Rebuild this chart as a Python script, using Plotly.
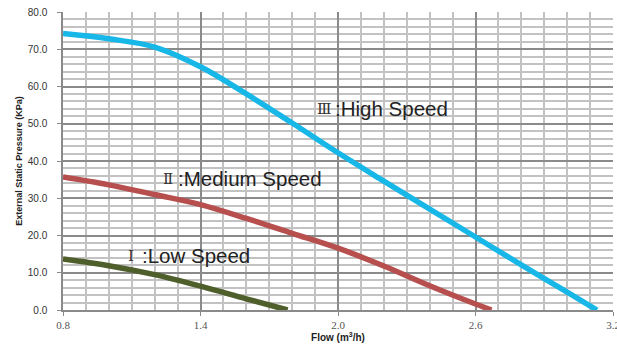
import plotly.graph_objs as go

# flow (m3/h) vs external static pressure (KPa)
flow_high = [0.8, 1.0, 1.2, 1.4, 1.6, 1.8, 2.0, 2.2, 2.4, 2.6, 2.8, 3.0, 3.13]
pres_high = [74.2, 72.8, 70.6, 65.3, 58.0, 50.2, 42.2, 34.6, 27.1, 19.6, 12.1, 4.8, 0.0]

flow_med = [0.8, 1.0, 1.2, 1.4, 1.6, 1.8, 2.0, 2.2, 2.4, 2.6, 2.67]
pres_med = [35.7, 33.6, 31.0, 28.3, 24.6, 20.6, 16.6, 11.8, 6.5, 1.6, 0.0]

flow_low = [0.8, 1.0, 1.2, 1.4, 1.6, 1.78]
pres_low = [13.7, 11.9, 9.5, 6.4, 3.0, 0.0]

x_ticks = [0.8, 1.4, 2.0, 2.6, 3.2]
x_tick_labels = ['0.8', '1.4', '2.0', '2.6', '3.2']
y_ticks = [0, 10, 20, 30, 40, 50, 60, 70, 80]
y_tick_labels = ['0.0', '10.0', '20.0', '30.0', '40.0', '50.0', '60.0', '70.0', '80.0']

speed_numerals = ['Ⅲ', 'Ⅱ', 'Ⅰ']
speed_names = [':High Speed', ':Medium Speed', ':Low Speed']
line_colors = ['#17B7E8', '#B64F4E', '#4F5F2B']

# plot area in page pixels, used to place the curve labels
PL, PR, PT, PB = 62.5, 613, 12, 310.5
label_pos = [(315, 333, 109), (161, 176, 179), (126, 140, 256)]  # numeral x, colon x, y

fig = go.Figure()
for xs, ys, color, name in zip([flow_high, flow_med, flow_low],
                               [pres_high, pres_med, pres_low],
                               line_colors, speed_names):
    fig.add_trace(go.Scatter(x=xs, y=ys, name=name.strip(':'), mode='lines',
                             line=dict(color=color, width=5.5, shape='spline', smoothing=1),
                             hoverinfo='skip'))

for numeral, name, (nx, cx, py) in zip(speed_numerals, speed_names, label_pos):
    yp = (PB - py) / (PB - PT)
    fig.add_annotation(text=numeral, xref='paper', yref='paper',
                       x=(nx - PL) / (PR - PL), y=yp, xanchor='left', yanchor='middle',
                       showarrow=False,
                       font=dict(family='DejaVu Serif, serif', size=15, color='#333333'))
    fig.add_annotation(text=name, xref='paper', yref='paper',
                       x=(cx - PL) / (PR - PL), y=yp, xanchor='left', yanchor='middle',
                       showarrow=False,
                       font=dict(family='Liberation Sans, Arial', size=20.5, color='#222222'))

fig.update_layout(
    width=617, height=345,
    margin=dict(l=PL, r=617 - PR, t=PT, b=345 - PB),
    paper_bgcolor='white', plot_bgcolor='white',
    showlegend=False,
    xaxis=dict(range=[0.8, 3.2], tickvals=x_ticks, ticktext=x_tick_labels,
               tickfont=dict(family='Liberation Serif, serif', size=11, color='#555555'),
               ticklabeloverflow='allow', automargin=False,
               showgrid=True, gridcolor='#8A8A8A', gridwidth=1.5,
               minor=dict(dtick=0.1, tick0=0.8, showgrid=True, gridcolor='#C2C2C2', gridwidth=1.5),
               showline=True, linecolor='#8A8A8A', linewidth=1.5,
               ticks='outside', ticklen=4, tickcolor='#8A8A8A',
               zeroline=False,
               title=dict(text='<b>Flow (m<sup>3</sup>/h)</b>', standoff=2,
                          font=dict(family='Liberation Sans, Arial', size=10, color='#222222'))),
    yaxis=dict(range=[0, 80], tickvals=y_ticks, ticktext=y_tick_labels,
               tickfont=dict(family='Liberation Sans, Arial', size=10, color='#333333'),
               ticklabelstandoff=8, automargin=False,
               showgrid=True, gridcolor='#8A8A8A', gridwidth=1.5,
               minor=dict(dtick=2, tick0=0, showgrid=True, gridcolor='#C2C2C2', gridwidth=1.5),
               showline=True, linecolor='#8A8A8A', linewidth=1.5,
               ticks='outside', ticklen=4, tickcolor='#8A8A8A',
               zeroline=False,
               title=dict(text='<b>External Static Pressure (KPa)</b>', standoff=4,
                          font=dict(family='Liberation Sans, Arial', size=9, color='#222222'))),
)

# drop the default 8px body margin so the figure sits at the page corner
fig.write_html("out.html", config={'displayModeBar': False},
               post_script="document.body.style.margin='0';")
